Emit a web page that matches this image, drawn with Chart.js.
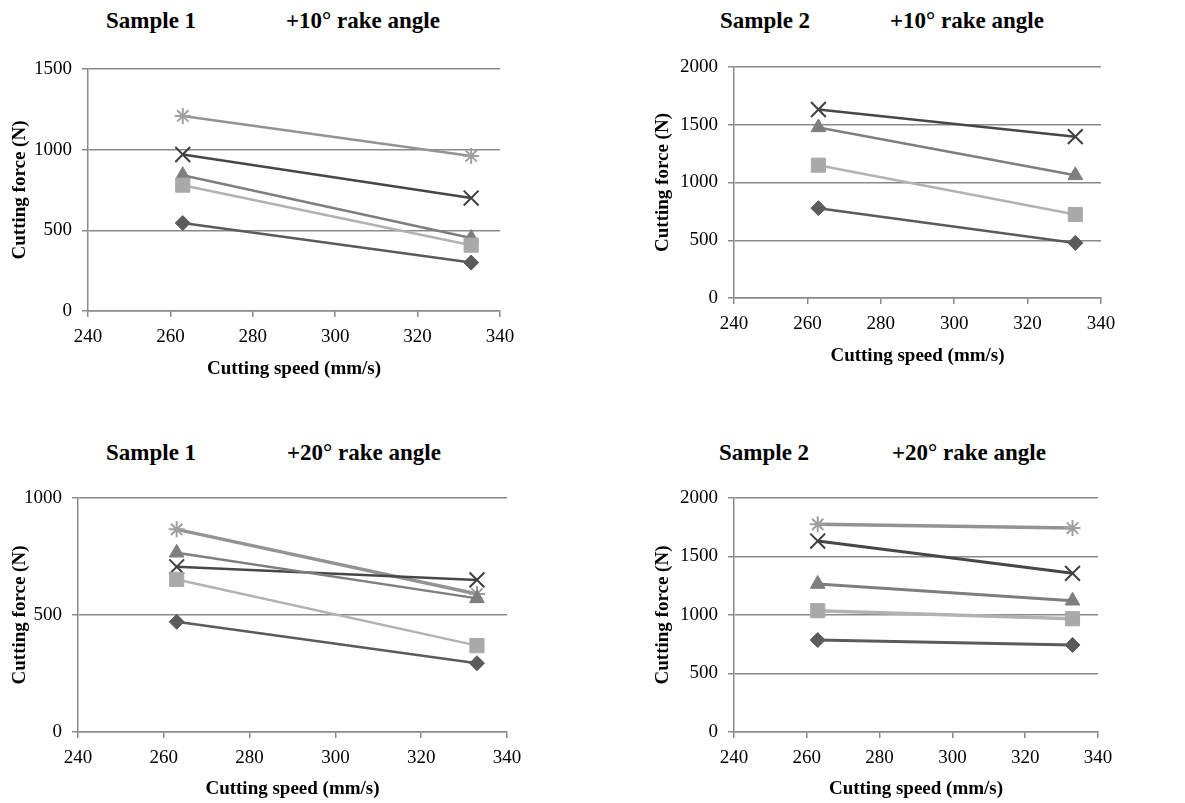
<!DOCTYPE html>
<html>
<head>
<meta charset="utf-8">
<script src="https://cdn.jsdelivr.net/npm/chart.js@4/dist/chart.umd.min.js"></script>
<style>
  html, body { margin: 0; padding: 0; background: #fff; overflow: hidden; }
  body { width: 1185px; height: 803px; position: relative; font-family: 'Liberation Serif', 'Times New Roman', serif; }
  canvas { position: absolute; }
  .ttl { position: absolute; font-weight: bold; font-size: 23px; line-height: 23px; white-space: nowrap; color: #000; }
</style>
</head>
<body>
<div class="ttl" style="left:106px; top:9px;">Sample 1</div>
<div class="ttl" style="left:286px; top:9px;">+10° rake angle</div>
<div class="ttl" style="left:720px; top:9px;">Sample 2</div>
<div class="ttl" style="left:890px; top:9px;">+10° rake angle</div>
<div class="ttl" style="left:106px; top:441px;">Sample 1</div>
<div class="ttl" style="left:287px; top:441px;">+20° rake angle</div>
<div class="ttl" style="left:719px; top:441px;">Sample 2</div>
<div class="ttl" style="left:892px; top:441px;">+20° rake angle</div>

<canvas id="c1" width="560" height="350" style="left:0px; top:40px;"></canvas>
<canvas id="c2" width="542" height="336" style="left:643px; top:40px;"></canvas>
<canvas id="c3" width="560" height="363" style="left:0px; top:440px;"></canvas>
<canvas id="c4" width="542" height="363" style="left:643px; top:440px;"></canvas>

<script>
// --- data ---
const speeds = [263, 333];          // cutting speed, mm/s
const xTicks = [240, 260, 280, 300, 320, 340];

// Sample 1, +10 deg
const s1r10Diamond  = [545, 300];
const s1r10Square   = [780, 408];
const s1r10Triangle = [842, 452];
const s1r10Cross    = [970, 700];
const s1r10Star     = [1209, 961];

// Sample 2, +10 deg (no star series)
const s2r10Diamond  = [778, 477];
const s2r10Square   = [1150, 723];
const s2r10Triangle = [1477, 1062];
const s2r10Cross    = [1632, 1397];

// Sample 1, +20 deg
const s1r20Diamond  = [471, 294];
const s1r20Square   = [652, 369];
const s1r20Triangle = [766, 571];
const s1r20Cross    = [706, 650];
const s1r20Star     = [866, 590];

// Sample 2, +20 deg
const s2r20Diamond  = [786, 744];
const s2r20Square   = [1037, 968];
const s2r20Triangle = [1265, 1122];
const s2r20Cross    = [1632, 1356];
const s2r20Star     = [1775, 1743];

const yMax = { c1: 1500, c2: 2000, c3: 1000, c4: 2000 };

// --- styling ---
const FONT = "'Liberation Serif', 'Times New Roman', serif";
const AXIS = '#8a8a8a';
const STYLE = {
    diamond:  { line: '#5b5b5b', fill: '#5b5b5b', pointStyle: 'rectRot',  radius: 7.5,  bw: 1 },
    square:   { line: '#b2b2b2', fill: '#a9a9a9', pointStyle: 'rect',     radius: 10,   bw: 1 },
    triangle: { line: '#7e7e7e', fill: '#7e7e7e', pointStyle: 'triangle', radius: 8.5,  bw: 1 },
    cross:    { line: '#474747', fill: '#3f3f3f', pointStyle: 'crossRot', radius: 10.5, bw: 2 },
    star:     { line: '#939393', fill: '#a0a0a0', pointStyle: 'star',     radius: 8,    bw: 2 }
};

// canvas box and wanted plot area (page coords), title centres
const LAYOUT = {
    c1: { box: { x: 0,   y: 40,  w: 560, h: 350 }, plot: { l: 88,  t: 69,  r: 500,  b: 311 }, yTitleX: 20,  xTitleY: 369 },
    c2: { box: { x: 643, y: 40,  w: 542, h: 336 }, plot: { l: 734, t: 67,  r: 1101, b: 298 }, yTitleX: 663, xTitleY: 356 },
    c3: { box: { x: 0,   y: 440, w: 560, h: 363 }, plot: { l: 78,  t: 498, r: 507,  b: 732 }, yTitleX: 20,  xTitleY: 789 },
    c4: { box: { x: 643, y: 440, w: 542, h: 363 }, plot: { l: 734, t: 498, r: 1098, b: 732 }, yTitleX: 663, xTitleY: 789 }
};

function series(kind, values, lineWidth) {
    const s = STYLE[kind];
    return {
        label: kind,
        data: speeds.map((x, i) => ({ x, y: values[i] })),
        borderColor: s.line,
        backgroundColor: s.fill,
        borderWidth: lineWidth || 2.5,
        pointStyle: s.pointStyle,
        pointRadius: s.radius,
        pointBorderColor: s.fill,
        pointBackgroundColor: s.fill,
        pointBorderWidth: s.bw,
        tension: 0
    };
}

function buildChart(id, datasets) {
    const L = LAYOUT[id];
    const titleSize = 19, lh = titleSize * 1.2;
    const yWidth = L.plot.l - L.box.x;
    const xHeight = L.box.y + L.box.h - L.plot.b;

    new Chart(document.getElementById(id), {
        type: 'line',
        data: { datasets },
        options: {
            responsive: false,
            animation: false,
            events: [],
            layout: {
                padding: { top: L.plot.t - L.box.y, right: L.box.x + L.box.w - L.plot.r, left: 0, bottom: 0 }
            },
            plugins: { legend: { display: false }, tooltip: { enabled: false } },
            scales: {
                x: {
                    type: 'linear',
                    min: xTicks[0],
                    max: xTicks[xTicks.length - 1],
                    afterBuildTicks: (scale) => { scale.ticks = xTicks.map(v => ({ value: v })); },
                    afterFit: (scale) => { scale.height = xHeight; },
                    grid: { drawOnChartArea: false, drawTicks: true, tickLength: 6, color: AXIS, lineWidth: 1.5 },
                    border: { color: AXIS, width: 1.5 },
                    ticks: { color: '#000', padding: 9, font: { family: FONT, size: 19 }, callback: (v) => String(v) },
                    title: {
                        display: true, text: 'Cutting speed (mm/s)', color: '#000',
                        font: { family: FONT, size: titleSize, weight: 'bold' },
                        padding: { top: 0, bottom: L.box.y + L.box.h - L.xTitleY - lh / 2 }
                    }
                },
                y: {
                    min: 0,
                    max: yMax[id],
                    afterFit: (scale) => { scale.width = yWidth; },
                    grid: { drawTicks: true, tickLength: 6, color: AXIS, lineWidth: 1.5 },
                    border: { color: AXIS, width: 1.5 },
                    ticks: { stepSize: 500, color: '#000', padding: 10, font: { family: FONT, size: 19 }, callback: (v) => String(v) },
                    title: {
                        display: true, text: 'Cutting force (N)', color: '#000',
                        font: { family: FONT, size: titleSize, weight: 'bold' },
                        padding: { top: L.yTitleX - L.box.x - lh / 2, bottom: 0 }
                    }
                }
            }
        }
    });
}

buildChart('c1', [
    series('diamond', s1r10Diamond),
    series('square', s1r10Square),
    series('triangle', s1r10Triangle),
    series('cross', s1r10Cross),
    series('star', s1r10Star)
]);
buildChart('c2', [
    series('diamond', s2r10Diamond),
    series('square', s2r10Square),
    series('triangle', s2r10Triangle),
    series('cross', s2r10Cross)
]);
buildChart('c3', [
    series('diamond', s1r20Diamond),
    series('square', s1r20Square),
    series('triangle', s1r20Triangle),
    series('cross', s1r20Cross),
    series('star', s1r20Star, 3.5)
]);
buildChart('c4', [
    series('diamond', s2r20Diamond, 3),
    series('square', s2r20Square, 3.5),
    series('triangle', s2r20Triangle, 3),
    series('cross', s2r20Cross, 3),
    series('star', s2r20Star, 3.5)
]);
</script>
</body>
</html>
